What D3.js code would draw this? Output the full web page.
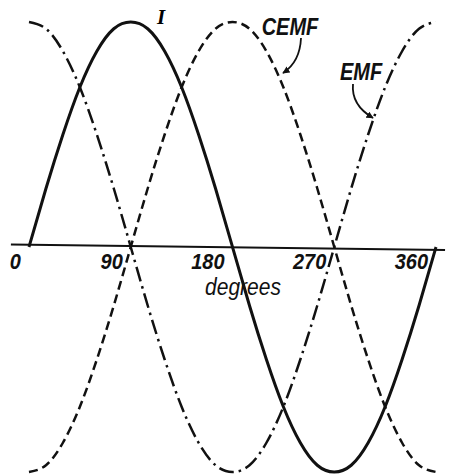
<!DOCTYPE html>
<html>
<head>
<meta charset="UTF-8">
<title></title>
<script src="https://cdn.jsdelivr.net/npm/d3@7"></script>
<style>
  html, body { margin: 0; padding: 0; background: #fff; }
  .lbl { font-family: "Liberation Sans", Arial, sans-serif; font-style: italic; fill: #111; }
</style>
</head>
<body>
<div id="svg"></div>
<script>
const degrees = [0,15,30,45,60,75,90,105,120,135,150,165,180,195,210,225,240,255,270,285,300,315,330,345,360];
// current (solid)
const current = [0,0.26,0.5,0.71,0.87,0.97,1,0.97,0.87,0.71,0.5,0.26,0,-0.26,-0.5,-0.71,-0.87,-0.97,-1,-0.97,-0.87,-0.71,-0.5,-0.26,0];
// counter emf (dashed)
const cemf = [-1,-0.97,-0.87,-0.71,-0.5,-0.26,0,0.26,0.5,0.71,0.87,0.97,1,0.97,0.87,0.71,0.5,0.26,0,-0.26,-0.5,-0.71,-0.87,-0.97,-1];
// applied emf (dash-dot)
const emf = [1,0.97,0.87,0.71,0.5,0.26,0,-0.26,-0.5,-0.71,-0.87,-0.97,-1,-0.97,-0.87,-0.71,-0.5,-0.26,0,0.26,0.5,0.71,0.87,0.97,1];
const tickValues = [0,90,180,270,360];

const width = 455, height = 475;
const svg = d3.select("#svg").append("svg").attr("width", width).attr("height", height);

const x = d3.scaleLinear().domain([0,360]).range([29,436]);
const y = d3.scaleLinear().domain([-1,1]).range([472,22]);

svg.append("defs").append("marker")
  .attr("id","arr").attr("viewBox","0 0 10 10").attr("refX",9).attr("refY",5)
  .attr("markerWidth",4).attr("markerHeight",4).attr("orient","auto")
  .append("path").attr("d","M0,0L10,5L0,10z").attr("fill","#111");

// baseline (slightly skewed like the printed original)
svg.append("line")
  .attr("x1", x(-16)).attr("x2", x(368))
  .attr("y1", y(0) - 2.5).attr("y2", y(0) + 3)
  .attr("stroke","#111").attr("stroke-width",2);

const line = vals => d3.line().x((d,i)=>x(degrees[i])).y(d=>y(d)).curve(d3.curveNatural)(vals);

svg.append("path").attr("d", line(cemf)).attr("fill","none")
  .attr("stroke","#111").attr("stroke-width",2.5).attr("stroke-dasharray","9,5");
svg.append("path").attr("d", line(emf)).attr("fill","none")
  .attr("stroke","#111").attr("stroke-width",2.5).attr("stroke-dasharray","15,5,2.5,5");
svg.append("path").attr("d", line(current)).attr("fill","none")
  .attr("stroke","#111").attr("stroke-width",3);

// text helper: tall lettering
const label = (tx, ty, str, size, weight) => svg.append("text").attr("class","lbl")
  .attr("transform", `translate(${tx},${ty}) scale(1,1.15)`)
  .attr("text-anchor","middle").attr("font-size",size).attr("font-weight",weight)
  .text(str);

// tick labels
svg.selectAll(".tick-lbl").data(tickValues).enter().append("text")
  .attr("class","lbl tick-lbl")
  .attr("transform", d=>`translate(${x(d) - 8},269) scale(1,1.12)`)
  .attr("text-anchor","end").attr("font-size",20).attr("font-weight","bold")
  .text(d=>d);

label(243, 295, "degrees", 21, "normal");

// curve labels
label(290, 35, "CEMF", 20, "bold");
label(361, 80, "EMF", 20, "bold");
svg.append("text").attr("x",161).attr("y",24)
  .attr("text-anchor","middle").attr("font-size",21).attr("font-weight","bold")
  .attr("font-style","italic").attr("font-family","Liberation Serif, serif")
  .text("I");

// arrows
svg.append("path").attr("d","M301,38 Q300,62 283,73").attr("fill","none")
  .attr("stroke","#111").attr("stroke-width",1.8).attr("marker-end","url(#arr)");
svg.append("path").attr("d","M353,84 Q351,105 373,118").attr("fill","none")
  .attr("stroke","#111").attr("stroke-width",1.8).attr("marker-end","url(#arr)");
</script>
</body>
</html>
